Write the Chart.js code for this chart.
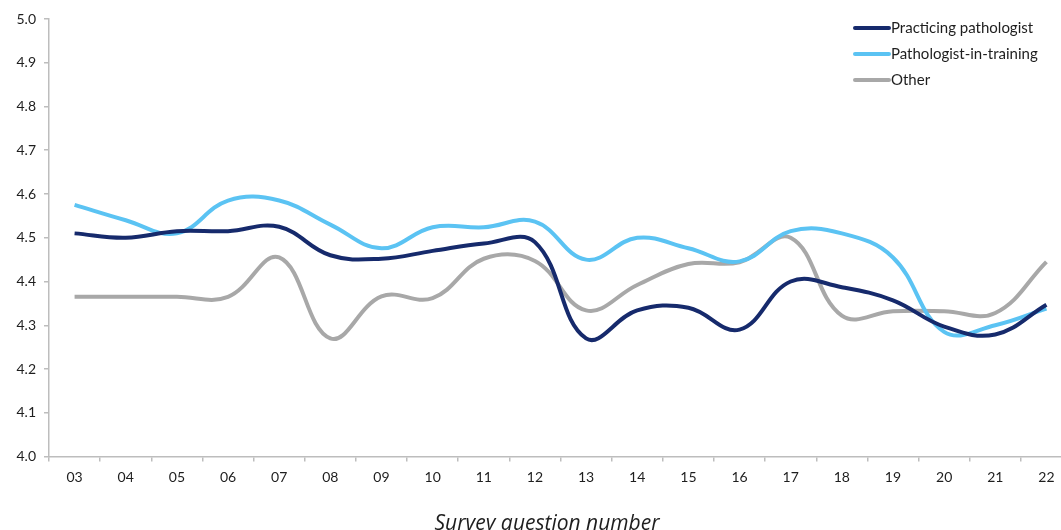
<!DOCTYPE html>
<html>
<head>
<meta charset="utf-8">
<script src="https://cdn.jsdelivr.net/npm/chart.js@4"></script>
<style>
  html, body { margin: 0; padding: 0; background: #fff; overflow: hidden; }
  #wrap { width: 1080px; height: 560px; }
</style>
</head>
<body>
<div id="wrap"><canvas id="ctx_survey" width="1080" height="560"></canvas></div>
<script>
var questions = ['03', '04', '05', '06', '07', '08', '09', '10', '11', '12',
                 '13', '14', '15', '16', '17', '18', '19', '20', '21', '22'];

var practicing = [4.51, 4.50, 4.515, 4.515, 4.525, 4.46, 4.452, 4.47, 4.487, 4.49,
                  4.27, 4.334, 4.34, 4.29, 4.40, 4.387, 4.357, 4.297, 4.279, 4.347];
var inTraining = [4.575, 4.54, 4.51, 4.585, 4.585, 4.53, 4.476, 4.524, 4.524, 4.537,
                  4.45, 4.50, 4.476, 4.446, 4.515, 4.51, 4.455, 4.285, 4.30, 4.338];
var other      = [4.365, 4.365, 4.365, 4.365, 4.455, 4.27, 4.366, 4.362, 4.452, 4.447,
                  4.334, 4.392, 4.44, 4.444, 4.50, 4.322, 4.332, 4.332, 4.328, 4.445];

var seriesNames  = ['Practicing pathologist', 'Pathologist-in-training', 'Other'];
var seriesColors = ['#162a6c', '#5bc3f3', '#a8a8a8'];
var xTitle = 'Survey question number';

var axisColor = '#bdbdbd';
var textColor = '#1e1e1e';
var fontFamily = 'Lato, "Open Sans", sans-serif';

// legend inside the plot (top right) and the x axis caption under the ticks
var extras = {
    id: 'extras',
    afterDraw: function(chart) {
        var c = chart.ctx;
        var x = 855, y = 28, gap = 26;
        c.save();
        c.font = '15px ' + fontFamily;
        c.textBaseline = 'middle';
        c.textAlign = 'left';
        chart.data.datasets.forEach(function(ds, i) {
            var yy = y + i * gap;
            c.strokeStyle = ds.borderColor;
            c.lineWidth = 4;
            c.lineCap = 'round';
            c.beginPath();
            c.moveTo(x, yy);
            c.lineTo(x + 34, yy);
            c.stroke();
            c.fillStyle = textColor;
            c.fillText(ds.label, x + 36, yy);
        });

        c.font = 'italic 21px "Open Sans", sans-serif';
        c.textAlign = 'center';
        c.textBaseline = 'alphabetic';
        c.fillStyle = textColor;
        c.fillText(xTitle, 547, 530);
        c.restore();
    }
};

function makeDataset(i, values) {
    return {
        label: seriesNames[i],
        data: values,
        borderColor: seriesColors[i],
        backgroundColor: seriesColors[i],
        borderWidth: 4,
        pointRadius: 0,
        pointHoverRadius: 0,
        tension: 0.4,
        fill: false
    };
}

var ctx = document.getElementById('ctx_survey');
var myChart = new Chart(ctx, {
    type: 'line',
    data: {
        labels: questions,
        datasets: [
            makeDataset(0, practicing),
            makeDataset(1, inTraining),
            makeDataset(2, other)
        ]
    },
    options: {
        responsive: false,
        devicePixelRatio: 1,
        animation: false,
        layout: { padding: { top: 19, right: 8, left: 0, bottom: 0 } },
        plugins: {
            legend: { display: false },
            tooltip: { enabled: false }
        },
        scales: {
            x: {
                offset: true,
                grid: {
                    offset: true,
                    drawOnChartArea: false,
                    color: axisColor,
                    tickLength: 5,
                    lineWidth: 1.5
                },
                border: { color: axisColor, width: 1.5 },
                ticks: {
                    color: textColor,
                    font: { family: fontFamily, size: 14 },
                    padding: 8,
                    maxRotation: 0,
                    autoSkip: false
                },
                afterFit: function(scale) { scale.height = 103.5; }
            },
            y: {
                min: 4.0,
                max: 5.0,
                grid: {
                    drawOnChartArea: false,
                    color: axisColor,
                    tickLength: 5,
                    lineWidth: 1.5
                },
                border: { color: axisColor, width: 1.5 },
                ticks: {
                    stepSize: 0.1,
                    color: textColor,
                    font: { family: fontFamily, size: 14 },
                    padding: 8,
                    callback: function(value) { return Number(value).toFixed(1); }
                },
                afterFit: function(scale) { scale.width = 49; }
            }
        }
    },
    plugins: [extras]
});
</script>
</body>
</html>
